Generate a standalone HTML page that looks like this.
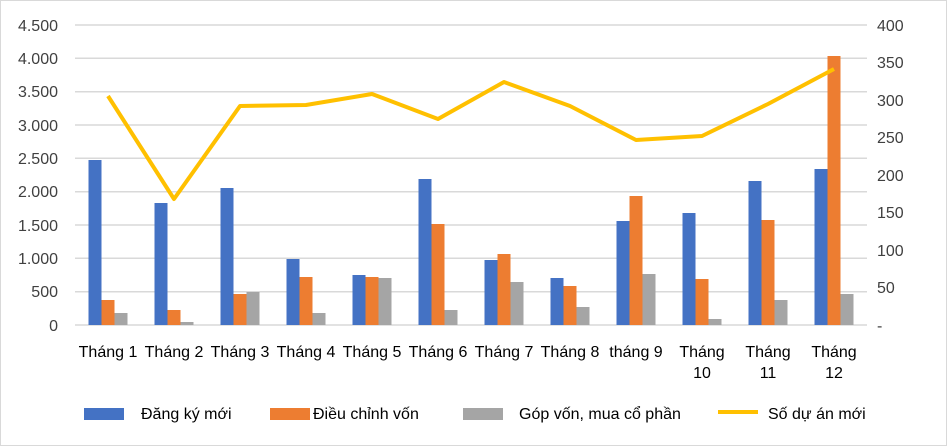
<!DOCTYPE html><html><head><meta charset="utf-8"><style>body{margin:0;background:#fff}svg{display:block;font-family:"Liberation Sans",sans-serif}</style></head><body>
<svg width="947" height="446" viewBox="0 0 947 446">
<rect x="0.5" y="0.5" width="946" height="445" fill="#fff" stroke="#d9d9d9"/>
<g stroke="#d9d9d9" stroke-width="1.5">
<line x1="75" x2="867" y1="25" y2="25"/><line x1="75" x2="867" y1="58.3" y2="58.3"/><line x1="75" x2="867" y1="91.7" y2="91.7"/><line x1="75" x2="867" y1="125" y2="125"/><line x1="75" x2="867" y1="158.3" y2="158.3"/><line x1="75" x2="867" y1="191.7" y2="191.7"/><line x1="75" x2="867" y1="225" y2="225"/><line x1="75" x2="867" y1="258.3" y2="258.3"/><line x1="75" x2="867" y1="291.7" y2="291.7"/><line x1="75" x2="867" y1="325" y2="325"/>
</g>
<g font-size="16" fill="#404040" text-anchor="end">
<text x="58" y="31">4.500</text><text x="58" y="64">4.000</text><text x="58" y="97">3.500</text><text x="58" y="131">3.000</text><text x="58" y="164">2.500</text><text x="58" y="197">2.000</text><text x="58" y="231">1.500</text><text x="58" y="264">1.000</text><text x="58" y="297">500</text><text x="58" y="331">0</text>
</g>
<g font-size="16" fill="#404040" text-anchor="start">
<text x="877" y="31">400</text><text x="877" y="68">350</text><text x="877" y="106">300</text><text x="877" y="143">250</text><text x="877" y="181">200</text><text x="877" y="218">150</text><text x="877" y="256">100</text><text x="877" y="293">50</text><text x="877" y="331">-</text>
</g>
<g fill="#4472c4">
<rect x="88.5" y="160" width="13" height="165"/><rect x="154.5" y="203" width="13" height="122"/><rect x="220.5" y="188" width="13" height="137"/><rect x="286.5" y="259" width="13" height="66"/><rect x="352.5" y="275" width="13" height="50"/><rect x="418.5" y="179" width="13" height="146"/><rect x="484.5" y="260" width="13" height="65"/><rect x="550.5" y="278" width="13" height="47"/><rect x="616.5" y="221" width="13" height="104"/><rect x="682.5" y="213" width="13" height="112"/><rect x="748.5" y="181" width="13" height="144"/><rect x="814.5" y="169" width="13" height="156"/>
</g>
<g fill="#ed7d31">
<rect x="101.5" y="300" width="13" height="25"/><rect x="167.5" y="310" width="13" height="15"/><rect x="233.5" y="294" width="13" height="31"/><rect x="299.5" y="277" width="13" height="48"/><rect x="365.5" y="277" width="13" height="48"/><rect x="431.5" y="224" width="13" height="101"/><rect x="497.5" y="254" width="13" height="71"/><rect x="563.5" y="286" width="13" height="39"/><rect x="629.5" y="196" width="13" height="129"/><rect x="695.5" y="279" width="13" height="46"/><rect x="761.5" y="220" width="13" height="105"/><rect x="827.5" y="56" width="13" height="269"/>
</g>
<g fill="#a5a5a5">
<rect x="114.5" y="313" width="13" height="12"/><rect x="180.5" y="322" width="13" height="3"/><rect x="246.5" y="292" width="13" height="33"/><rect x="312.5" y="313" width="13" height="12"/><rect x="378.5" y="278" width="13" height="47"/><rect x="444.5" y="310" width="13" height="15"/><rect x="510.5" y="282" width="13" height="43"/><rect x="576.5" y="307" width="13" height="18"/><rect x="642.5" y="274" width="13" height="51"/><rect x="708.5" y="319" width="13" height="6"/><rect x="774.5" y="300" width="13" height="25"/><rect x="840.5" y="294" width="13" height="31"/>
</g>
<polyline fill="none" stroke="#ffc000" stroke-width="4" stroke-linejoin="round" points="108,96 174,199 240,106 306,105 372,94 438,119 504,82 570,106 636,140 702,136 768,104 834,69"/>
<g font-size="16" fill="#000" text-anchor="middle">
<text x="108" y="357">Tháng 1</text><text x="174" y="357">Tháng 2</text><text x="240" y="357">Tháng 3</text><text x="306" y="357">Tháng 4</text><text x="372" y="357">Tháng 5</text><text x="438" y="357">Tháng 6</text><text x="504" y="357">Tháng 7</text><text x="570" y="357">Tháng 8</text><text x="636" y="357">tháng 9</text>
<text x="702" y="357">Tháng</text><text x="702" y="378">10</text><text x="768" y="357">Tháng</text><text x="768" y="378">11</text><text x="834" y="357">Tháng</text><text x="834" y="378">12</text>
</g>
<rect x="84" y="408" width="40" height="12" fill="#4472c4"/>
<rect x="270" y="408" width="40" height="12" fill="#ed7d31"/>
<rect x="463" y="408" width="40" height="12" fill="#a5a5a5"/>
<line x1="718" x2="758" y1="412" y2="412" stroke="#ffc000" stroke-width="4"/>
<g font-size="16" fill="#000">
<text x="141" y="419">Đăng ký mới</text><text x="313" y="419">Điều chỉnh vốn</text><text x="519" y="419">Góp vốn, mua cổ phần</text><text x="768" y="419">Số dự án mới</text>
</g>
</svg></body></html>
